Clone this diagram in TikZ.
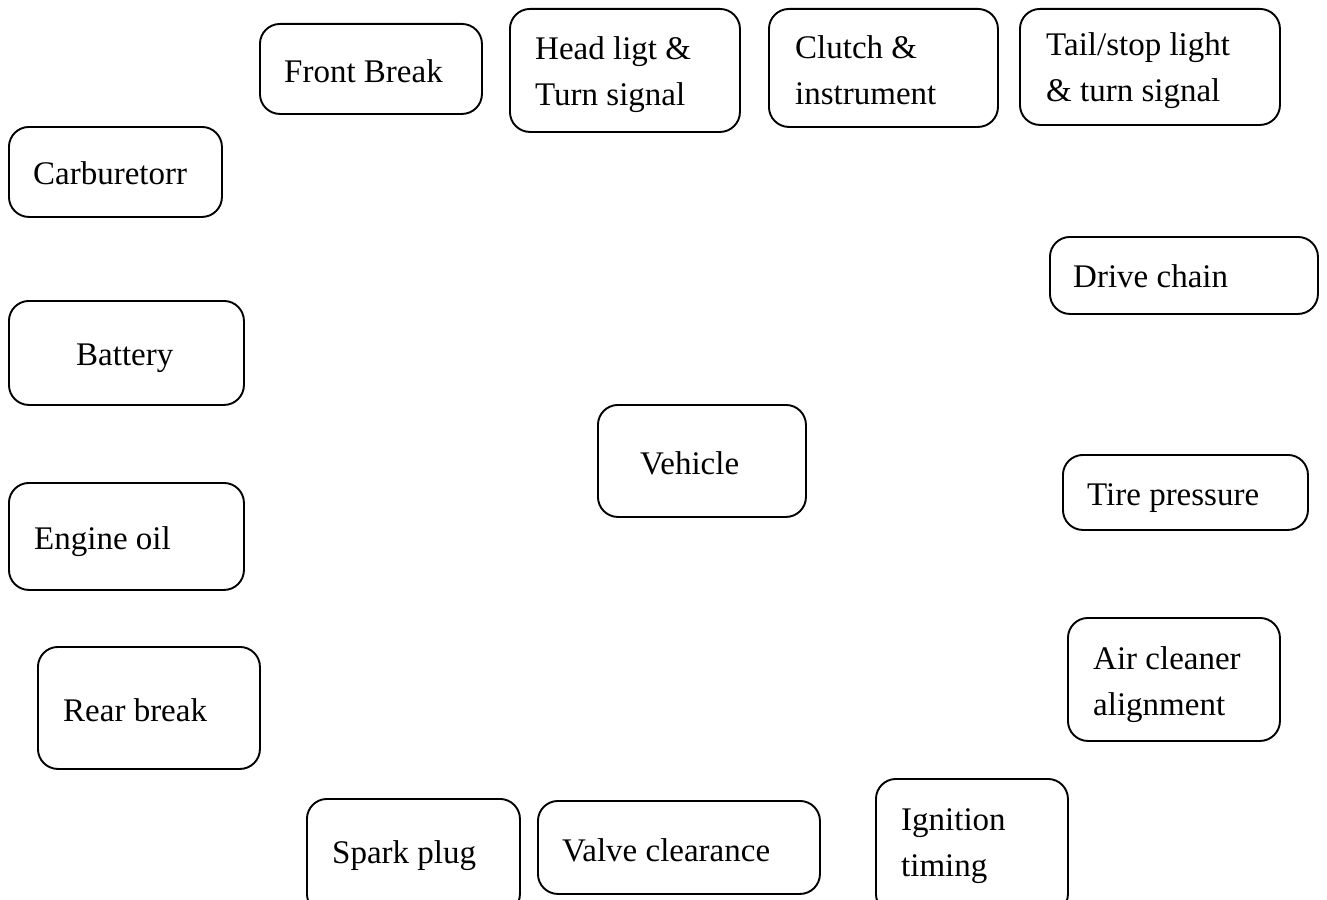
\documentclass[tikz,border=0pt]{standalone}
\usepackage{fontspec}
\setmainfont{Liberation Serif}
\begin{document}
\begin{tikzpicture}[x=1pt,y=-1pt,
  box/.style={draw=black,line width=1.9pt,rounded corners=20pt,anchor=north west,inner sep=0pt},
  lbl/.style={anchor=west,align=left,inner sep=0pt,font=\fontsize{33}{46}\selectfont}]
\useasboundingbox (0,0) rectangle (1327,899);
\clip (0,0) rectangle (1327,899);
% boxes
\node[box,minimum width=222pt,minimum height=90pt] (b1) at (259,23) {};
\node[box,minimum width=230pt,minimum height=123pt] (b2) at (509,8) {};
\node[box,minimum width=229pt,minimum height=118pt] (b3) at (768,8) {};
\node[box,minimum width=260pt,minimum height=116pt] (b4) at (1019,8) {};
\node[box,minimum width=213pt,minimum height=90pt] (b5) at (8,126) {};
\node[box,minimum width=268pt,minimum height=77pt] (b6) at (1049,236) {};
\node[box,minimum width=235pt,minimum height=104pt] (b7) at (8,300) {};
\node[box,minimum width=208pt,minimum height=112pt] (b8) at (597,404) {};
\node[box,minimum width=235pt,minimum height=107pt] (b9) at (8,482) {};
\node[box,minimum width=245pt,minimum height=75pt] (b10) at (1062,454) {};
\node[box,minimum width=212pt,minimum height=123pt] (b11) at (1067,617) {};
\node[box,minimum width=222pt,minimum height=122pt] (b12) at (37,646) {};
\node[box,minimum width=213pt,minimum height=115pt] (b13) at (306,798) {};
\node[box,minimum width=282pt,minimum height=93pt] (b14) at (537,800) {};
\node[box,minimum width=192pt,minimum height=135pt] (b15) at (875,778) {};
% labels
\node[lbl] (t1) at (284,71) {Front Break};
\node[lbl] (t2) at (535,75) {Head ligt \&\\Turn signal};
\node[lbl] (t3) at (795,70) {Clutch \&\\instrument};
\node[lbl] (t4) at (1046,71) {Tail/stop light\\\& turn signal};
\node[lbl] (t5) at (33,173) {Carburetorr};
\node[lbl] (t6) at (1073,276) {Drive chain};
\node[lbl] (t7) at (76,358) {Battery};
\node[lbl] (t8) at (640,463) {Vehicle};
\node[lbl] (t9) at (34,542) {Engine oil};
\node[lbl] (t10) at (1087,498) {Tire pressure};
\node[lbl] (t11) at (1093,685) {Air cleaner\\alignment};
\node[lbl] (t12) at (63,710) {Rear break};
\node[lbl] (t13) at (332,856) {Spark plug};
\node[lbl] (t14) at (562,850) {Valve clearance};
\node[lbl] (t15) at (901,846) {Ignition\\timing};
\end{tikzpicture}
\end{document}
